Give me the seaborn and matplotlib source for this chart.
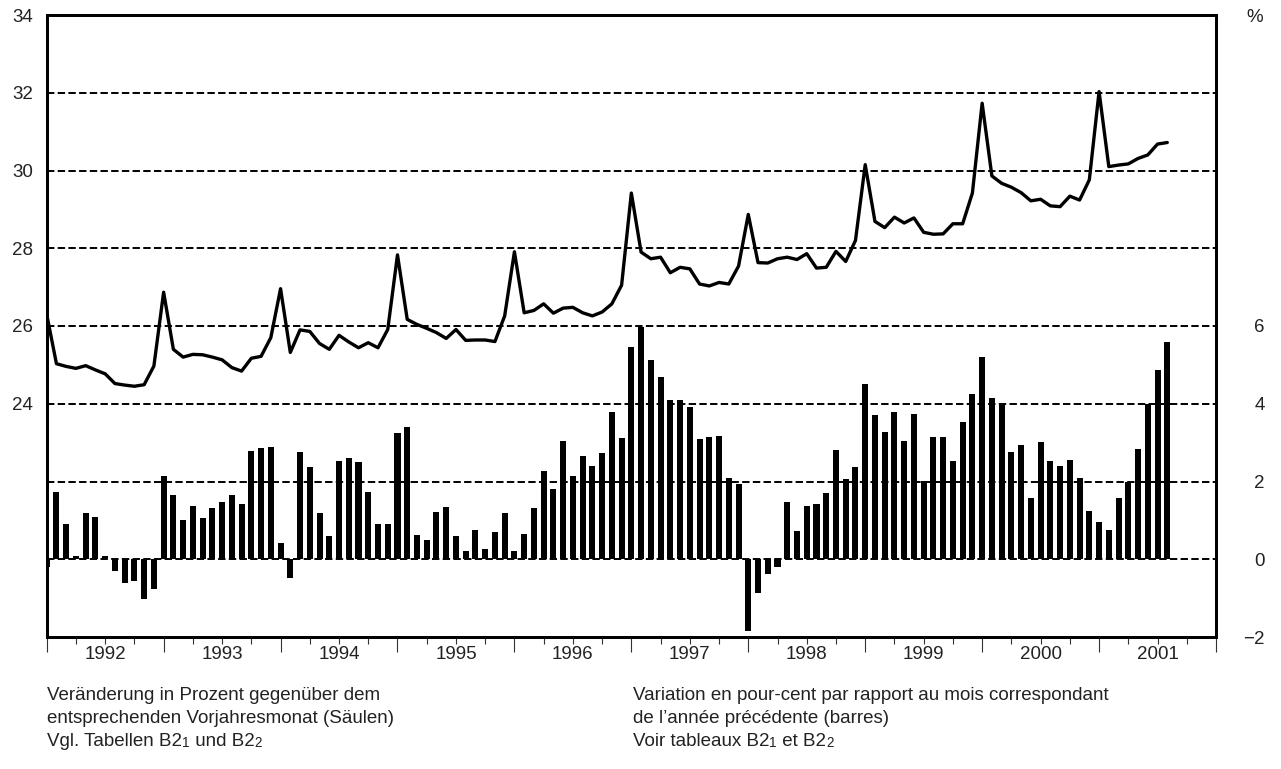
import numpy as np
import pandas as pd
import matplotlib
matplotlib.use("Agg")
import matplotlib.pyplot as plt
import seaborn as sns

# Anteil in % (Linie, linke Achse), monatlich ab Januar 1992
share_pct = [
    26.30, 25.03, 24.96, 24.91, 24.98, 24.87, 24.77, 24.52, 24.48, 24.45, 24.49, 24.97,
    26.87, 25.40, 25.20, 25.27, 25.26, 25.20, 25.13, 24.93, 24.84, 25.17, 25.22, 25.70,
    26.96, 25.32, 25.90, 25.86, 25.55, 25.40, 25.76, 25.59, 25.44, 25.57, 25.44, 25.91,
    27.83, 26.17, 26.04, 25.94, 25.83, 25.68, 25.91, 25.63, 25.64, 25.64, 25.60, 26.26,
    27.91, 26.34, 26.40, 26.57, 26.33, 26.46, 26.48, 26.34, 26.26, 26.36, 26.57, 27.05,
    29.42, 27.90, 27.73, 27.77, 27.37, 27.51, 27.47, 27.08, 27.03, 27.12, 27.08, 27.54,
    28.87, 27.63, 27.62, 27.73, 27.77, 27.71, 27.86, 27.49, 27.51, 27.92, 27.66, 28.20,
    30.15, 28.69, 28.53, 28.80, 28.65, 28.78, 28.41, 28.36, 28.37, 28.63, 28.63, 29.42,
    31.73, 29.86, 29.67, 29.57, 29.43, 29.22, 29.26, 29.09, 29.07, 29.34, 29.24, 29.76,
    32.03, 30.10, 30.14, 30.17, 30.31, 30.40, 30.68, 30.72,
]

# Veränderung gegenüber Vorjahresmonat in % (Säulen, rechte Achse)
change_pct = [
    -0.21, 1.74, 0.91, 0.09, 1.19, 1.09, 0.09, -0.29, -0.60, -0.55, -1.02, -0.76,
    2.13, 1.66, 1.00, 1.37, 1.06, 1.32, 1.46, 1.64, 1.42, 2.79, 2.86, 2.90,
    0.42, -0.47, 2.76, 2.38, 1.19, 0.60, 2.53, 2.60, 2.50, 1.73, 0.91, 0.91,
    3.25, 3.41, 0.63, 0.50, 1.22, 1.35, 0.60, 0.21, 0.76, 0.27, 0.70, 1.19,
    0.21, 0.65, 1.32, 2.27, 1.81, 3.05, 2.15, 2.66, 2.40, 2.74, 3.79, 3.12,
    5.47, 5.97, 5.13, 4.70, 4.10, 4.10, 3.92, 3.10, 3.15, 3.18, 2.09, 1.94,
    -1.84, -0.88, -0.37, -0.19, 1.48, 0.73, 1.37, 1.42, 1.71, 2.82, 2.07, 2.38,
    4.52, 3.72, 3.28, 3.79, 3.05, 3.74, 2.02, 3.15, 3.15, 2.53, 3.54, 4.26,
    5.21, 4.15, 3.97, 2.76, 2.94, 1.58, 3.02, 2.53, 2.40, 2.56, 2.09, 1.24,
    0.96, 0.76, 1.58, 1.99, 2.84, 4.00, 4.88, 5.60,
]

year_labels = ["1992", "1993", "1994", "1995", "1996",
               "1997", "1998", "1999", "2000", "2001"]

left_ticks = [20, 22, 24, 26, 28, 30, 32, 34]
left_labels = ["", "", "24", "26", "28", "30", "32", "34"]
right_ticks = [-2, 0, 2, 4, 6]
right_labels = ["\u22122", "0", "2", "4", "6"]

# Fussnoten: (Text, kleine Ziffer?)
left_note = [
    [("Veränderung in Prozent gegenüber dem", False)],
    [("entsprechenden Vorjahresmonat (Säulen)", False)],
    [("Vgl. Tabellen B2", False), ("1", True), (" und B2", False), ("2", True)],
]
right_note = [
    [("Variation en pour-cent par rapport au mois correspondant", False)],
    [("de l\u2019année précédente (barres)", False)],
    [("Voir tableaux B2", False), ("1", True), (" et B2", False), ("2", True)],
]

sns.set_theme(style="white")
plt.rcParams["font.family"] = ["Liberation Sans", "DejaVu Sans"]

df = pd.DataFrame({
    "month": np.arange(len(share_pct)),
    "share": share_pct,
    "change": change_pct,
})

FS = 13.5
TXT = "#222222"
fig = plt.figure(figsize=(12.81, 7.69), dpi=100)
ax = fig.add_axes([46.7 / 1281, 1 - 637 / 769, (1216 - 46.7) / 1281, (637 - 15) / 769])
ax2 = ax.twinx()

sns.barplot(data=df, x="month", y="change", ax=ax2, native_scale=True,
            color="black", saturation=1, width=0.62, errorbar=None, linewidth=0)
sns.lineplot(data=df, x="month", y="share", ax=ax, color="black", linewidth=2.4)

n_years = len(year_labels)
ax.set_xlim(0, 12 * n_years)
ax.set_ylim(18, 34)
ax2.set_ylim(-2, 14)

# Jahresgrenzen (lange Striche) und Quartale (kurze Striche, Jahreszahl in der Mitte)
ax.set_xticks(np.arange(0, 12 * n_years + 1, 12), labels=[])
quarter_pos = [q for q in range(3, 12 * n_years, 3) if q % 12 != 0]
quarter_lab = [year_labels[q // 12] if q % 12 == 6 else "" for q in quarter_pos]
ax.set_xticks(quarter_pos, labels=quarter_lab, minor=True)
ax.tick_params(axis="x", which="major", bottom=True, length=11, width=0.8,
               color="#333333", direction="out")
ax.tick_params(axis="x", which="minor", bottom=True, length=5, width=0.8,
               color="#333333", direction="out", pad=1.5, labelsize=FS,
               labelcolor=TXT)

ax.set_yticks(left_ticks, labels=left_labels)
ax.tick_params(axis="y", length=0, pad=10, labelsize=FS, labelcolor=TXT)
ax.grid(axis="y", color="black", linewidth=1.4, linestyle=(0, (3.8, 1.7)))
ax.grid(axis="x", visible=False)

ax2.set_yticks(right_ticks, labels=right_labels)
ax2.tick_params(axis="y", length=0, pad=35, labelsize=FS, labelcolor=TXT)
for lab in ax2.get_yticklabels():
    lab.set_horizontalalignment("right")
ax2.grid(False)

for a in (ax, ax2):
    a.set_xlabel("")
    a.set_ylabel("")
    for sp in a.spines.values():
        sp.set_visible(True)
        sp.set_color("black")
        sp.set_linewidth(2)

fig.text(1255 / 1281, 1 - 17 / 769, "%", ha="center", va="center",
         fontsize=FS, color=TXT)


def note(x_px, y_px, parts):
    # kleine Ziffern (B21, B22) stehen auf der Grundlinie
    prev = fig.text(x_px / 1281, 1 - y_px / 769, parts[0][0], fontsize=FS,
                    va="baseline", color=TXT)
    for txt, small in parts[1:]:
        prev = ax.annotate(txt, xy=(1, 0), xycoords=prev, va="bottom",
                           ha="left", fontsize=FS * 0.72 if small else FS,
                           color=TXT, annotation_clip=False)


for i, (l, r) in enumerate(zip(left_note, right_note)):
    note(47, 700 + 23 * i, l)
    note(633, 700 + 23 * i, r)

fig.savefig("out.png", dpi=100)
